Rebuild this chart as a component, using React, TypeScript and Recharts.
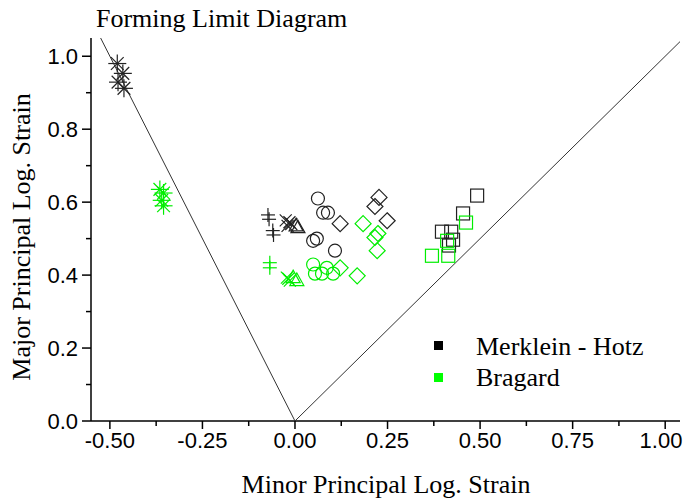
import { Label, Scatter, ScatterChart, XAxis, YAxis } from "recharts"

// forming limit diagram, minor strain vs major strain
const xMajor = [-0.5, -0.25, 0, 0.25, 0.5, 0.75, 1.0]
const xMinor = [-0.375, -0.125, 0.125, 0.375, 0.625, 0.875]
const yMajor = [0, 0.2, 0.4, 0.6, 0.8, 1.0]
const yMinor = [0.1, 0.3, 0.5, 0.7, 0.9]

const legendNames = ["Merklein - Hotz", "Bragard"]

const uniaxialLine = [
  { x: 0, y: 0 },
  { x: -0.525, y: 1.05 },
]
const biaxialLine = [
  { x: 0, y: 0 },
  { x: 1.04, y: 1.04 },
]

// Merklein - Hotz (black)
const mhAsterisk = [
  { x: -0.48, y: 0.98 },
  { x: -0.465, y: 0.953 },
  { x: -0.478, y: 0.929 },
  { x: -0.462, y: 0.912 },
]
const mhPlus = [
  { x: -0.073, y: 0.565 },
  { x: -0.07, y: 0.553 },
  { x: -0.06, y: 0.522 },
  { x: -0.058, y: 0.51 },
]
const mhCross = [
  { x: -0.025, y: 0.55 },
  { x: -0.015, y: 0.545 },
  { x: -0.02, y: 0.535 },
  { x: -0.01, y: 0.54 },
]
const mhTriangle = [
  { x: 0.008, y: 0.53 },
  { x: 0.003, y: 0.535 },
]
const mhCircle = [
  { x: 0.062, y: 0.61 },
  { x: 0.076, y: 0.571 },
  { x: 0.089, y: 0.571 },
  { x: 0.049, y: 0.494 },
  { x: 0.059, y: 0.5 },
  { x: 0.108, y: 0.467 },
]
const mhDiamond = [
  { x: 0.122, y: 0.541 },
  { x: 0.227, y: 0.613 },
  { x: 0.216, y: 0.588 },
  { x: 0.249, y: 0.549 },
]
const mhSquare = [
  { x: 0.492, y: 0.618 },
  { x: 0.454, y: 0.569 },
  { x: 0.397, y: 0.519 },
  { x: 0.422, y: 0.519 },
  { x: 0.427, y: 0.497 },
  { x: 0.416, y: 0.481 },
]

// Bragard (green)
const brAsterisk = [
  { x: -0.365, y: 0.635 },
  { x: -0.355, y: 0.625 },
  { x: -0.36, y: 0.605 },
  { x: -0.355, y: 0.59 },
]
const brPlus = [
  { x: -0.068, y: 0.434 },
  { x: -0.068, y: 0.42 },
]
const brCross = [
  { x: -0.022, y: 0.393 },
  { x: -0.014, y: 0.385 },
  { x: -0.018, y: 0.39 },
]
const brTriangle = [
  { x: -0.005, y: 0.393 },
  { x: 0.005, y: 0.385 },
]
const brCircle = [
  { x: 0.049, y: 0.429 },
  { x: 0.054, y: 0.404 },
  { x: 0.073, y: 0.404 },
  { x: 0.086, y: 0.42 },
  { x: 0.103, y: 0.404 },
]
const brDiamond = [
  { x: 0.184, y: 0.541 },
  { x: 0.224, y: 0.514 },
  { x: 0.216, y: 0.503 },
  { x: 0.222, y: 0.467 },
  { x: 0.122, y: 0.42 },
  { x: 0.168, y: 0.398 },
]
const brSquare = [
  { x: 0.462, y: 0.544 },
  { x: 0.411, y: 0.494 },
  { x: 0.37, y: 0.453 },
  { x: 0.414, y: 0.453 },
]

const BLACK = "#222"
const GREEN = "#00ee00"
const SERIF = "Liberation Serif"
const SANS = "Liberation Sans"

const sw = 1.2

const asterisk = (color: string) => (p: any) => {
  const r = 9
  return (
    <g stroke={color} strokeWidth={sw}>
      {[0, 45, 90, 135].map((a) => {
        const dx = r * Math.cos((a * Math.PI) / 180)
        const dy = r * Math.sin((a * Math.PI) / 180)
        return <line key={a} x1={p.cx - dx} y1={p.cy - dy} x2={p.cx + dx} y2={p.cy + dy} />
      })}
    </g>
  )
}
const plus = (color: string) => (p: any) => (
  <g stroke={color} strokeWidth={sw}>
    <line x1={p.cx - 7} y1={p.cy} x2={p.cx + 7} y2={p.cy} />
    <line x1={p.cx} y1={p.cy - 7} x2={p.cx} y2={p.cy + 7} />
  </g>
)
const cross = (color: string) => (p: any) => (
  <g stroke={color} strokeWidth={sw}>
    <line x1={p.cx - 6} y1={p.cy - 6} x2={p.cx + 6} y2={p.cy + 6} />
    <line x1={p.cx - 6} y1={p.cy + 6} x2={p.cx + 6} y2={p.cy - 6} />
  </g>
)
const triangle = (color: string) => (p: any) => (
  <polygon
    points={`${p.cx},${p.cy - 7.5} ${p.cx + 7},${p.cy + 5} ${p.cx - 7},${p.cy + 5}`}
    fill="none"
    stroke={color}
    strokeWidth={sw}
  />
)
const circle = (color: string) => (p: any) => (
  <circle cx={p.cx} cy={p.cy} r={6.5} fill="none" stroke={color} strokeWidth={sw} />
)
const diamond = (color: string) => (p: any) => (
  <polygon
    points={`${p.cx},${p.cy - 8} ${p.cx + 8},${p.cy} ${p.cx},${p.cy + 8} ${p.cx - 8},${p.cy}`}
    fill="none"
    stroke={color}
    strokeWidth={sw}
  />
)
const square = (color: string) => (p: any) => (
  <rect x={p.cx - 6.5} y={p.cy - 6.5} width={13} height={13} fill="none" stroke={color} strokeWidth={sw} />
)
const noDot = () => <g />

const XTick = (p: any) => {
  const v = p.payload.value
  const major = xMajor.includes(v)
  // keep the last label inside the picture
  const tx = Math.min(p.x, 661)
  return (
    <g>
      <line x1={p.x} x2={p.x} y1={p.y} y2={p.y + (major ? 8 : 5)} stroke="#000" strokeWidth={1.5} />
      {major && (
        <text x={tx} y={p.y + 27} textAnchor="middle" fontFamily={SANS} fontSize={22} fill="#000">
          {v.toFixed(2)}
        </text>
      )}
    </g>
  )
}

const YTick = (p: any) => {
  const v = p.payload.value
  const major = yMajor.includes(v)
  return (
    <g>
      <line x1={p.x - (major ? 9 : 5)} x2={p.x} y1={p.y} y2={p.y} stroke="#000" strokeWidth={1.5} />
      {major && (
        <text x={p.x - 13} y={p.y + 8} textAnchor="end" fontFamily={SANS} fontSize={22} fill="#000">
          {v.toFixed(1)}
        </text>
      )}
    </g>
  )
}

const series = [
  { data: mhAsterisk, shape: asterisk(BLACK) },
  { data: mhPlus, shape: plus(BLACK) },
  { data: mhCross, shape: cross(BLACK) },
  { data: mhTriangle, shape: triangle(BLACK) },
  { data: mhCircle, shape: circle(BLACK) },
  { data: mhDiamond, shape: diamond(BLACK) },
  { data: mhSquare, shape: square(BLACK) },
  { data: brAsterisk, shape: asterisk(GREEN) },
  { data: brPlus, shape: plus(GREEN) },
  { data: brCross, shape: cross(GREEN) },
  { data: brTriangle, shape: triangle(GREEN) },
  { data: brCircle, shape: circle(GREEN) },
  { data: brDiamond, shape: diamond(GREEN) },
  { data: brSquare, shape: square(GREEN) },
]

export default function App() {
  const xTicks = [...xMajor, ...xMinor].sort((a, b) => a - b)
  const yTicks = [...yMajor, ...yMinor].sort((a, b) => a - b)
  return (
    <div style={{ position: "absolute", left: 0, top: 0, width: 685, height: 501, background: "#fff" }}>
      <ScatterChart width={685} height={501} margin={{ top: 38, right: 5, bottom: 0, left: 0 }}>
        <XAxis
          type="number"
          dataKey="x"
          domain={[-0.551, 1.04]}
          ticks={xTicks}
          interval={0}
          tickSize={0}
          tickMargin={0}
          tickLine={false}
          tick={<XTick />}
          height={80}
          axisLine={{ stroke: "#000", strokeWidth: 1.5 }}
          allowDataOverflow
        >
          <Label
            content={() => (
              <text x={386} y={493} textAnchor="middle" fontFamily={SERIF} fontSize={26} fill="#000">
                Minor Principal Log. Strain
              </text>
            )}
          />
        </XAxis>
        <XAxis
          xAxisId="top"
          orientation="top"
          type="number"
          dataKey="x"
          domain={[-0.551, 1.04]}
          height={0}
          tick={false}
          tickLine={false}
          axisLine={{ stroke: "#000", strokeWidth: 2 }}
          allowDataOverflow
        />
        <YAxis
          type="number"
          dataKey="y"
          domain={[0, 1.05]}
          ticks={yTicks}
          interval={0}
          tickSize={0}
          tickMargin={0}
          tickLine={false}
          tick={<YTick />}
          width={91}
          axisLine={{ stroke: "#000", strokeWidth: 1.5 }}
          allowDataOverflow
        >
          <Label
            content={() => (
              <text
                x={30}
                y={237}
                transform="rotate(-90 30 237)"
                textAnchor="middle"
                fontFamily={SERIF}
                fontSize={26}
                fill="#000"
              >
                Major Principal Log. Strain
              </text>
            )}
          />
        </YAxis>
        <YAxis
          yAxisId="right"
          orientation="right"
          type="number"
          dataKey="y"
          domain={[0, 1.05]}
          width={0}
          tick={false}
          tickLine={false}
          axisLine={{ stroke: "#000", strokeWidth: 1.5 }}
          allowDataOverflow
        />
        <Scatter
          data={uniaxialLine}
          line={{ stroke: "#333", strokeWidth: 1 }}
          shape={noDot}
          isAnimationActive={false}
        />
        <Scatter
          data={biaxialLine}
          line={{ stroke: "#333", strokeWidth: 1 }}
          shape={noDot}
          isAnimationActive={false}
        />
        {series.map((s, i) => (
          <Scatter key={i} data={s.data} shape={s.shape} isAnimationActive={false} />
        ))}
      </ScatterChart>
      <svg
        width={685}
        height={501}
        style={{ position: "absolute", left: 0, top: 0, pointerEvents: "none" }}
      >
        <text x={96} y={27} fontFamily={SERIF} fontSize={26} fill="#000">
          Forming Limit Diagram
        </text>
        <rect x={434} y={341} width={9} height={9} fill="#000" />
        <rect x={434} y={373} width={9} height={9} fill="#00ff00" />
        <text x={476} y={355} fontFamily={SERIF} fontSize={26} fill="#000">
          {legendNames[0]}
        </text>
        <text x={476} y={386} fontFamily={SERIF} fontSize={26} fill="#000">
          {legendNames[1]}
        </text>
      </svg>
    </div>
  )
}
